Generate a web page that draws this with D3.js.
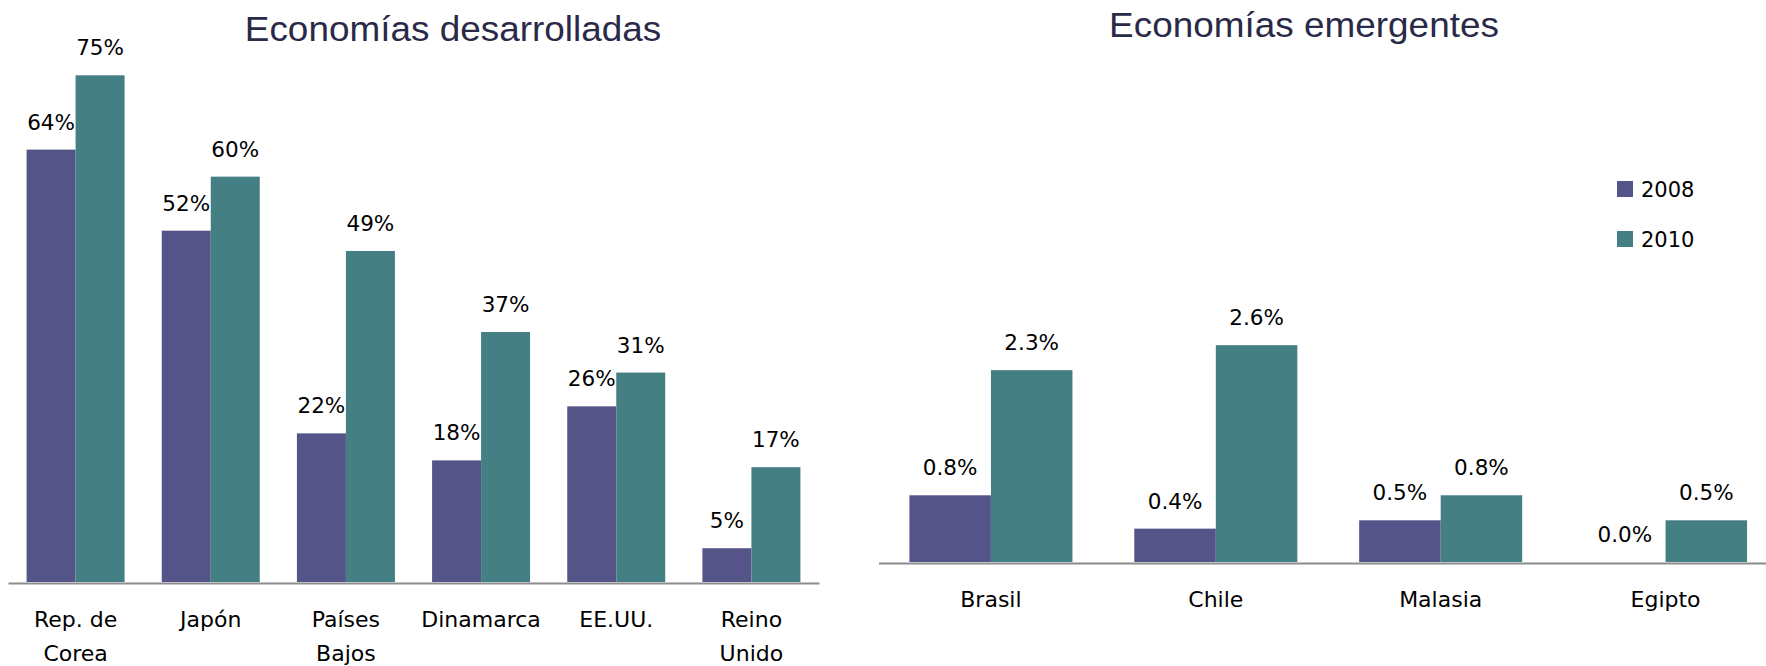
<!DOCTYPE html>
<html>
<head>
<meta charset="utf-8">
<script src="https://d3js.org/d3.v7.min.js"></script>
<style>
body { margin: 0; background: #fff; }
svg { display: block; }
.title { font-family: "Liberation Sans", Arial, sans-serif; fill: #2a2a48; }
.lbl { font-family: "DejaVu Sans", sans-serif; fill: #000; }
</style>
</head>
<body>
<svg width="1766" height="666"></svg>
<script>
// data
var years = ["2008", "2010"];
var colors = ["#545488", "#447f84"];

var devCategories = ["Rep. de Corea", "Japón", "Países Bajos", "Dinamarca", "EE.UU.", "Reino Unido"];
var dev2008 = [64, 52, 22, 18, 26, 5];
var dev2010 = [75, 60, 49, 37, 31, 17];

var emCategories = ["Brasil", "Chile", "Malasia", "Egipto"];
var em2008 = [0.8, 0.4, 0.5, 0.0];
var em2010 = [2.3, 2.6, 0.8, 0.5];

var svg = d3.select("svg");
var color = d3.scaleOrdinal().domain(years).range(colors);

function panel(opt) {
  var rows = opt.categories.map(function(c, i) {
    return { cat: c, vals: [opt.s2008[i], opt.s2010[i]] };
  });

  var x0 = d3.scaleBand().domain(opt.categories).range(opt.xRange)
    .paddingInner(0.275).paddingOuter(0.1375);
  var x1 = d3.scaleBand().domain(years).range([0, x0.bandwidth()]);
  var y = d3.scaleLinear().domain([0, opt.yMax]).range([opt.base, opt.top]);

  var g = svg.append("g");

  var grp = g.selectAll(".grp")
    .data(rows)
    .enter().append("g")
    .attr("transform", function(d) { return "translate(" + x0(d.cat) + ",0)"; });

  grp.selectAll("rect")
    .data(function(d) { return d.vals.map(function(v, i) { return { yr: years[i], v: v }; }); })
    .enter().append("rect")
    .attr("x", function(d) { return x1(d.yr); })
    .attr("width", x1.bandwidth())
    .attr("y", function(d) { return y(d.v); })
    .attr("height", function(d) { return opt.base - y(d.v); })
    .attr("fill", function(d) { return color(d.yr); });

  grp.selectAll("text")
    .data(function(d) { return d.vals.map(function(v, i) { return { yr: years[i], v: v }; }); })
    .enter().append("text")
    .attr("class", "lbl")
    .attr("x", function(d) { return x1(d.yr) + x1.bandwidth() / 2; })
    .attr("y", function(d) { return y(d.v) - 20; })
    .attr("text-anchor", "middle")
    .style("font-size", "21.5px")
    .text(function(d) { return opt.fmt(d.v) + "%"; });

  var axis = g.append("g")
    .attr("transform", "translate(0," + (opt.base + 1) + ")")
    .call(d3.axisBottom(x0).tickSize(0).tickSizeOuter(0));
  axis.select(".domain").attr("stroke", "#8c8c8c").attr("stroke-width", 2);
  axis.selectAll(".tick text").each(function(d) {
    var t = d3.select(this).text("")
      .attr("class", "lbl")
      .attr("y", 44).attr("dy", 0)
      .style("font-size", "22px");
    var k = d.lastIndexOf(" ");
    var lines = k > 0 ? [d.slice(0, k), d.slice(k + 1)] : [d];
    lines.forEach(function(s, i) {
      t.append("tspan").attr("x", 0).attr("dy", i ? 33.6 : 0).text(s);
    });
  });
  axis.attr("font-family", null).attr("font-size", null);

  svg.append("text")
    .attr("class", "title")
    .attr("transform", "translate(" + opt.titleX + "," + opt.titleY + ") scale(1.07,1)")
    .attr("text-anchor", "middle")
    .style("font-size", "34.5px")
    .text(opt.title);
}

panel({
  title: "Economías desarrolladas", titleX: 453, titleY: 41,
  categories: devCategories, s2008: dev2008, s2010: dev2010,
  xRange: [8, 819], base: 582, top: 582 - 80 * 6.756, yMax: 80,
  fmt: d3.format(".0f")
});

panel({
  title: "Economías emergentes", titleX: 1304, titleY: 37,
  categories: emCategories, s2008: em2008, s2010: em2010,
  xRange: [878.5, 1778], base: 562, top: 562 - 3 * 83.4, yMax: 3,
  fmt: d3.format(".1f")
});

// legend
var leg = svg.append("g").attr("transform", "translate(1617,181)");
leg.selectAll("rect")
  .data(years)
  .enter().append("rect")
  .attr("x", 0)
  .attr("y", function(d, i) { return i * 50; })
  .attr("width", 16).attr("height", 16)
  .attr("fill", function(d) { return color(d); });
leg.selectAll("text")
  .data(years)
  .enter().append("text")
  .attr("class", "lbl")
  .attr("x", 24)
  .attr("y", function(d, i) { return i * 50 + 16; })
  .style("font-size", "21px")
  .text(function(d) { return d; });
</script>
</body>
</html>
